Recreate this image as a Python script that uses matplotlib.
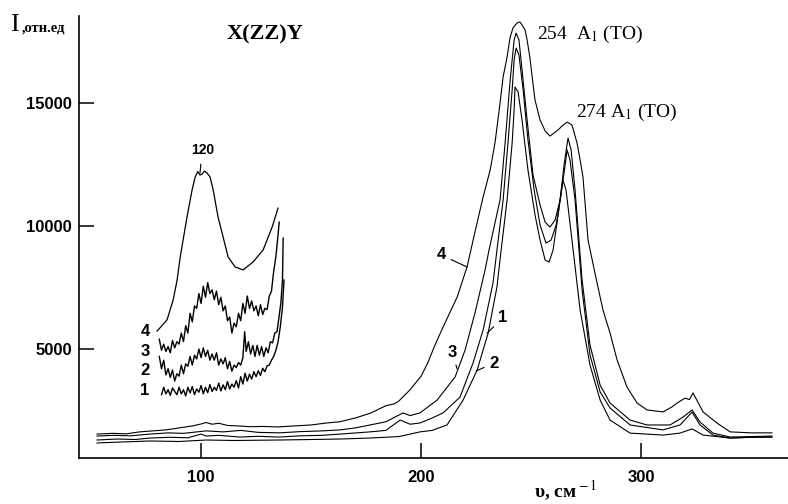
import numpy as np
import matplotlib
matplotlib.use("Agg")
import matplotlib.pyplot as plt

# Raman spectra X(ZZ)Y, samples 1-4
# main spectra: wavenumber (cm-1), intensity (rel. units)
x_4 = [52.7, 60, 66, 72, 78, 84, 90, 96, 100, 102.3, 105, 108, 112, 117, 122, 128, 135, 142, 150, 157,
       163, 170, 177, 184, 188, 190, 195, 200, 203, 206.5, 210, 216.4, 220.9, 224.5, 228.2, 231.4, 233.6,
       235.5, 237.3, 239.1, 240.5, 241.8, 243.6, 244.9, 245.9, 247.3, 248.2, 249.5, 250.5, 251.8, 254.1,
       256.4, 258.6, 262.3, 264.1, 266.4, 268.6, 270.9, 272.3, 273.6, 275.9, 280.0, 282.7, 285.9, 289.1,
       293.6, 298.2, 302.7, 310, 314, 316.4, 320, 322, 323.6, 328.2, 334.5, 340.5, 350, 359.5]
y_4 = [1550, 1580, 1560, 1640, 1680, 1720, 1800, 1880, 1960, 2020, 1950, 1990, 1900, 1880, 1850, 1860,
       1840, 1880, 1920, 2000, 2050, 2200, 2400, 2700, 2780, 2900, 3350, 3900, 4430, 5200, 5890, 7110,
       8330, 9750, 11170, 12260, 13360, 14690, 16040, 16850, 17660, 18030, 18230, 18270, 18150, 17940,
       17540, 16810, 16040, 15100, 14290, 13850, 13640, 13890, 14050, 14210, 14090, 13360, 12670, 11980,
       9420, 7680, 6580, 5650, 4560, 3460, 2810, 2530, 2450, 2650, 2810, 3010, 2950, 3220, 2450, 2000,
       1640, 1600, 1600]

x_3 = [52.7, 60, 68, 76.8, 85, 92, 102.3, 110, 118, 126, 135.5, 145, 155, 163.2, 170, 176.8, 184, 191.8,
       195, 199.5, 207.3, 215.5, 220, 224.5, 229.1, 230.9, 235.9, 238.2, 240.5, 242.3, 243.2, 244.5,
       245.9, 248.2, 250.9, 254.1, 256.4, 258.6, 260.9, 263.2, 265, 266.8, 268.2, 270, 273.2, 276.8,
       281.4, 285.9, 295, 302.7, 313.2, 319.1, 323.2, 326.8, 332.7, 340.5, 350, 359.5]
y_3 = [1470, 1500, 1480, 1550, 1600, 1580, 1680, 1640, 1700, 1620, 1600, 1650, 1680, 1720, 1800, 1920,
       2050, 2410, 2300, 2410, 2930, 3870, 4960, 6460, 8210, 9020, 11050, 13360, 15910, 17540, 17820,
       17540, 16330, 14290, 12060, 10840, 10150, 9950, 10230, 11050, 12470, 13560, 13080, 11450, 7800,
       5160, 3540, 2810, 2120, 1920, 1920, 2240, 2530, 2040, 1590, 1430, 1450, 1470]

x_1 = [52.7, 62, 70, 76.8, 86, 94, 100, 102.3, 108, 117.7, 126, 135.5, 145, 155, 163.2, 176.8, 184,
       190.5, 195, 199.5, 205, 210, 217.7, 223.6, 228.2, 232.7, 234.5, 237.3, 239.5, 241.4, 242.3, 243.2,
       244.5, 246.4, 248.6, 251.4, 254.1, 256.8, 259.1, 261.4, 263.6, 265.5, 266.4, 267.7, 270, 273.2,
       276.8, 281.4, 285.9, 295, 310, 317.7, 323.2, 326.8, 332.7, 340.5, 350, 359.5]
y_1 = [1310, 1350, 1330, 1390, 1420, 1400, 1550, 1470, 1500, 1430, 1460, 1430, 1480, 1500, 1550, 1640,
       1700, 2120, 1950, 2000, 2200, 2410, 3050, 4430, 5770, 7680, 9020, 11050, 13360, 15510, 16730,
       17210, 16930, 15510, 13480, 11450, 10030, 9300, 9420, 10030, 11250, 12470, 13080, 12670, 11050,
       7400, 4760, 3260, 2610, 1920, 1720, 1920, 2440, 1920, 1510, 1390, 1420, 1430]

x_2 = [52.7, 64, 76.8, 90, 102.3, 115, 135.5, 150, 163.2, 176.8, 190, 199.5, 205, 211.8, 219.1, 225.5,
       230.5, 234.5, 236.4, 239.1, 241.4, 242.3, 242.7, 244.1, 245.9, 248.6, 251.8, 254.1, 256.4, 258.2,
       260, 262.3, 264.1, 264.5, 265.9, 268.6, 272.3, 276.8, 281.4, 285.9, 295, 310, 317.7, 323.2, 328.2,
       340.5, 350, 359.5]
y_2 = [1190, 1230, 1270, 1250, 1310, 1290, 1310, 1330, 1350, 1390, 1450, 1640, 1700, 1920, 2930, 4150,
       5650, 7520, 9020, 11050, 13360, 14700, 15630, 15430, 14290, 12260, 10440, 9420, 8610, 8530, 9020,
       10440, 11660, 11860, 11450, 9420, 6580, 4350, 2930, 2120, 1590, 1510, 1590, 1760, 1510, 1390, 1420,
       1430]

# enlarged low-frequency part (inset), same samples
xi_4 = [80.0, 84.5, 87.3, 89.1, 90.5, 93.6, 95.9, 97.3, 98.5, 99.5, 100.5, 101.5, 102.7, 104.1, 105.5,
        107.7, 110.0, 112.3, 115.5, 119.1, 123.6, 128.2, 132.3, 135.0]
yi_4 = [5730, 6180, 6990, 7800, 8730, 10360, 11450, 11980, 12200, 12060, 12100, 12220, 12140, 11980,
        11450, 10360, 9550, 8730, 8330, 8210, 8530, 9020, 9950, 10720]

xi_3 = [81, 82, 83, 84, 85, 86, 87, 88, 89, 90, 91, 92, 93, 94, 95, 96, 97, 98, 99, 100, 101, 102, 103,
        104, 105, 106, 107, 108, 109, 110, 111, 112, 113, 114, 115, 116, 117, 118, 119, 120, 121, 122, 123,
        124, 125, 126, 127, 128, 129, 130, 131, 132, 133, 134, 135, 135.5]
yi_3 = [5400, 4950, 5200, 4900, 5100, 4850, 5350, 5050, 5300, 5200, 5650, 5300, 5950, 5650, 6450, 6100,
        6750, 6650, 7250, 6850, 7550, 7100, 7700, 7250, 7400, 7000, 7350, 6800, 7100, 6550, 6750, 6150,
        6300, 5650, 6050, 5900, 6450, 6150, 6850, 6450, 7150, 6650, 6950, 6550, 6750, 6350, 6800, 6400,
        6650, 6600, 7150, 7350, 8150, 8750, 9650, 10150]

xi_2 = [81, 82, 83, 84, 85, 86, 87, 88, 89, 90, 91, 92, 93, 94, 95, 96, 97, 98, 99, 100, 101, 102, 103,
        104, 105, 106, 107, 108, 109, 110, 111, 112, 113, 114, 115, 116, 117, 118, 119, 119.8, 120.5,
        121.5, 122.5, 123.5, 124.5, 125.5, 126.5, 127.5, 128.5, 129.5, 130.5, 131.5, 132.5, 133.5, 134.5,
        135.5, 136.3, 137.0, 137.3]
yi_2 = [4700, 4200, 4550, 3950, 4200, 3850, 4150, 3700, 4000, 3900, 4350, 4000, 4400, 4300, 4700, 4350,
        4750, 4600, 5000, 4650, 5050, 4700, 4950, 4550, 4800, 4550, 4850, 4350, 4600, 4400, 4650, 4200,
        4500, 4100, 4350, 4250, 4450, 4350, 4650, 5700, 4900, 5300, 4800, 5150, 4700, 5150, 4750, 5100,
        4700, 5050, 4850, 5300, 5250, 5650, 5700, 6350, 6900, 7800, 9500]

xi_1 = [82, 83, 84, 85, 86, 87, 88, 89, 90, 91, 92, 93, 94, 95, 96, 97, 98, 99, 100, 101, 102, 103, 104,
        105, 106, 107, 108, 109, 110, 111, 112, 113, 114, 115, 116, 117, 118, 119, 120, 121, 122, 123, 124,
        125, 126, 127, 128, 129, 130, 131, 132, 133, 134, 135, 136, 137, 137.7]
yi_1 = [3150, 3450, 3180, 3350, 3120, 3420, 3280, 3150, 3450, 3180, 3350, 3100, 3450, 3220, 3480, 3150,
        3380, 3250, 3520, 3180, 3450, 3230, 3560, 3280, 3450, 3320, 3620, 3300, 3550, 3350, 3680, 3380,
        3580, 3450, 3720, 3420, 3880, 3580, 4020, 3700, 3980, 3780, 4080, 3880, 4120, 3930, 4220, 4080,
        4320, 4350, 4550, 4700, 4950, 5300, 5900, 6700, 7800]

x_ticks = [100, 200, 300]
y_ticks = [5000, 10000, 15000]

sans = "Liberation Sans"
serif = "Liberation Serif"
plt.rcParams["mathtext.fontset"] = "stix"

fig = plt.figure(figsize=(7.88, 5.04), dpi=100)
ax = fig.add_axes([79 / 788, 46 / 504, 709 / 788, 442 / 504])

for xs, ys in [(x_4, y_4), (x_3, y_3), (x_1, y_1), (x_2, y_2)]:
    ax.plot(xs, ys, color="black", lw=0.8)
ax.plot(xi_4, yi_4, color="black", lw=0.9)
for xs, ys in [(xi_3, yi_3), (xi_2, yi_2), (xi_1, yi_1)]:
    ax.plot(xs, ys, color="black", lw=1.0)

ax.set_xlim(44.5, 366.8)
ax.set_ylim(580, 18512)
ax.spines["top"].set_visible(False)
ax.spines["right"].set_visible(False)
ax.spines["left"].set_linewidth(1.2)
ax.spines["bottom"].set_linewidth(1.2)
ax.set_xticks(x_ticks)
ax.set_yticks(y_ticks)
ax.tick_params(direction="in", length=11, width=1.1)
ax.tick_params(axis="y", pad=5)
ax.tick_params(axis="x", pad=9)
for lab in ax.get_xticklabels() + ax.get_yticklabels():
    lab.set_fontfamily(sans)
    lab.set_fontweight("bold")
    lab.set_fontsize(12)

# labels
ax.text(129, 17780, "X(ZZ)Y", family=serif, weight="bold", fontsize=16, ha="center", va="center")
ax.text(252.7, 17780, r"254  A$_{\rm 1}$ (TO)", family=serif, fontsize=14, ha="left", va="center")
ax.text(270.5, 14610, r"274 A$_{\rm 1}$ (TO)", family=serif, fontsize=14, ha="left", va="center")

ax.annotate("120", xy=(99.5, 12140), xytext=(100.5, 13070), family=sans, weight="bold", fontsize=10,
            ha="center", va="center", arrowprops=dict(arrowstyle="-", lw=0.8, shrinkA=3, shrinkB=0))

for lab, yv in zip(["4", "3", "2", "1"], [5730, 4920, 4110, 3300]):
    ax.text(74.5, yv, lab, family=sans, weight="bold", fontsize=12, ha="center", va="center")

for lab, tx, ty, px, py in [("4", 209.1, 8820, 220.9, 8330), ("3", 214.1, 4880, 216.4, 4190),
                            ("1", 237.3, 6260, 230.0, 5650), ("2", 233.2, 4430, 225.0, 4110)]:
    ax.annotate(lab, xy=(px, py), xytext=(tx, ty), family=sans, weight="bold", fontsize=12,
                ha="center", va="center", arrowprops=dict(arrowstyle="-", lw=0.8, shrinkA=2, shrinkB=0))

fig.text(10 / 788, 1 - 25 / 504, "I", family=serif, fontsize=19, ha="left", va="center")
fig.text(22 / 788, 1 - 28 / 504, ",отн.ед", family=serif, weight="bold", fontsize=10.5, ha="left",
         va="center")
fig.text(534 / 788, 6 / 504, r"υ, см$^{\rm -1}$", family=serif, weight="bold", fontsize=14,
         ha="left", va="baseline")

fig.savefig("out.png", dpi=100, facecolor="white")
